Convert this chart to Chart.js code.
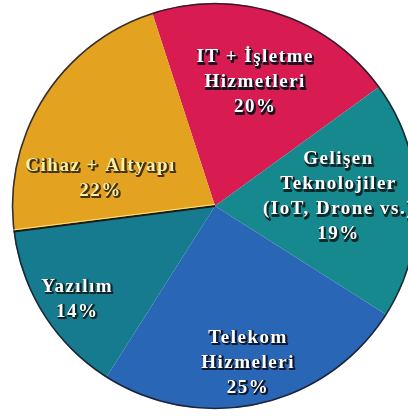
<!DOCTYPE html>
<html lang="tr">
<head>
<meta charset="utf-8">
<script src="https://cdn.jsdelivr.net/npm/chart.js@4.4.1/dist/chart.umd.min.js"></script>
<style>
  html, body { margin: 0; padding: 0; background: #ffffff; overflow: hidden; width: 408px; height: 416px; }
  #wrap { position: absolute; left: 0; top: 0; width: 430px; height: 412px; }
</style>
</head>
<body>
<div id="wrap"><canvas id="pie"></canvas></div>
<script>
// Market segments (multi-line names) and their shares in percent
const categories = [
  ["IT + İşletme", "Hizmetleri"],
  ["Gelişen", "Teknolojiler", "(IoT, Drone vs.)"],
  ["Telekom", "Hizmeleri"],
  ["Yazılım"],
  ["Cihaz + Altyapı"]
];
const shares = [20, 19, 25, 14, 22];

const sliceColors = ["#d81b50", "#16898f", "#2a66b6", "#167b8f", "#e3a21f"];
const labelInk = ["#ffffff", "#ffffff", "#ffffff", "#ffffff", "#f7f0a6"];
const labelShade = ["#1e1020", "#0c2a2c", "#0d1a33", "#0c2a2c", "#4a3208"];

// Where each label block sits: share of the radius, and a turn (degrees) off the slice middle
const labelReach = [0.64, 0.61, 0.79, 0.82, 0.58];
const labelTurn = [0, -2.4, 0.7, -1.7, -18.8];

const sliceLabels = {
  id: "sliceLabels",
  afterDatasetsDraw(chart) {
    const ctx = chart.ctx;
    const arcs = chart.getDatasetMeta(0).data;
    const first = arcs[0];
    ctx.save();

    // thin dark rim round the pie
    ctx.beginPath();
    ctx.arc(first.x, first.y, first.outerRadius - 0.5, 0, Math.PI * 2);
    ctx.strokeStyle = "rgba(25,25,40,0.85)";
    ctx.lineWidth = 1.6;
    ctx.stroke();

    // dark seam with a light edge between the last slice and the one before it
    const seam = arcs[arcs.length - 1].startAngle;
    const ex = first.x + Math.cos(seam) * first.outerRadius;
    const ey = first.y + Math.sin(seam) * first.outerRadius;
    ctx.beginPath();
    ctx.moveTo(first.x, first.y);
    ctx.lineTo(ex, ey);
    ctx.strokeStyle = "#1b1a17";
    ctx.lineWidth = 2;
    ctx.stroke();
    ctx.beginPath();
    ctx.moveTo(first.x, first.y - 1.6);
    ctx.lineTo(ex, ey - 1.6);
    ctx.strokeStyle = "rgba(250,235,140,0.9)";
    ctx.lineWidth = 1;
    ctx.stroke();

    // labels
    ctx.font = 'bold 19px "Liberation Serif"';
    ctx.textAlign = "center";
    ctx.textBaseline = "middle";
    ctx.letterSpacing = "1.5px";
    ctx.lineJoin = "round";
    arcs.forEach((arc, i) => {
      const mid = (arc.startAngle + arc.endAngle) / 2 + labelTurn[i] * Math.PI / 180;
      const r = arc.outerRadius * labelReach[i];
      const cx = arc.x + Math.cos(mid) * r;
      const cy = arc.y + Math.sin(mid) * r;
      const lines = categories[i].concat([shares[i] + "%"]);
      const lh = 25;
      const top = cy - (lines.length - 1) * lh / 2;
      lines.forEach((t, k) => {
        const y = top + k * lh;
        ctx.strokeStyle = labelShade[i];
        ctx.fillStyle = labelShade[i];
        ctx.lineWidth = 2;
        ctx.strokeText(t, cx + 1.3, y + 1.3);
        ctx.fillText(t, cx + 1.3, y + 1.3);
        ctx.fillStyle = labelInk[i];
        ctx.fillText(t, cx, y);
      });
    });
    ctx.restore();
  }
};

new Chart(document.getElementById("pie"), {
  type: "pie",
  data: {
    labels: categories.map(c => c.join(" ")),
    datasets: [{
      data: shares,
      backgroundColor: sliceColors,
      borderWidth: 0
    }]
  },
  options: {
    responsive: true,
    maintainAspectRatio: false,
    animation: false,
    rotation: -18,
    radius: 203,
    layout: { padding: 0 },
    plugins: {
      legend: { display: false },
      tooltip: { enabled: false }
    }
  },
  plugins: [sliceLabels]
});
</script>
</body>
</html>
